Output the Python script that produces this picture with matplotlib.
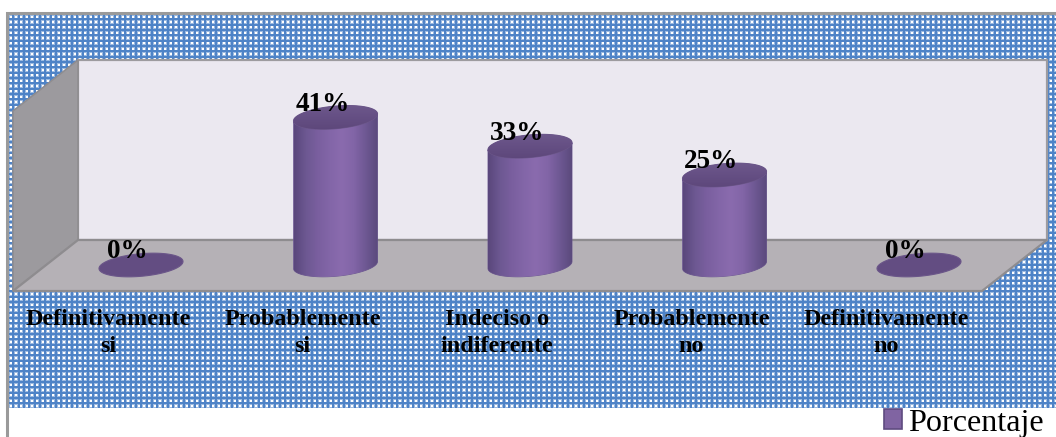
#!/usr/bin/env python3
# Cylinder column chart of survey answers, with a pseudo-3D box behind the columns.
import numpy as np
import matplotlib
matplotlib.use("Agg")
import matplotlib.pyplot as plt
from matplotlib.colors import LinearSegmentedColormap
from matplotlib.patches import Patch, Polygon
from matplotlib.transforms import ScaledTranslation

categories = ["Definitivamente\nsi", "Probablemente\nsi", "Indeciso o\nindiferente",
              "Probablemente\nno", "Definitivamente\nno"]
percent = [0, 41, 33, 25, 0]
series_name = "Porcentaje"

W, H = 1056, 437
PX_PER_CAT = 194.5
PX_PER_PCT = 3.6
BASE_Y = 265      # pixel row of the 0% level
FIRST_X = 141     # pixel column of the first category
SERIF = ["Liberation Serif", "DejaVu Serif"]

fig = plt.figure(figsize=(W / 100, H / 100), dpi=100, facecolor="white")

# --- box and patterned backdrop, in pixel coordinates ---
bg = fig.add_axes([0, 0, 1, 1])
bg.set_xlim(0, W)
bg.set_ylim(H, 0)
bg.axis("off")


def dot_texture(w, h, period=16 / 3):
    yy, xx = np.mgrid[0:h, 0:w]
    fx = ((xx + 0.5) % period) / period
    fy = ((yy + 0.5) % period) / period
    d = np.maximum(np.abs(fx - 0.5), np.abs(fy - 0.5))
    mix = np.where(d < 0.2, 1.0, np.where(d < 0.34, 0.45, 0.0))
    blue = np.array([78, 131, 199]) / 255
    return blue[None, None, :] * (1 - mix[..., None]) + mix[..., None]


bg.imshow(dot_texture(W - 8, 394), extent=(8, W, 408, 14), aspect="auto",
          interpolation="nearest", zorder=1)
bg.set_xlim(0, W)
bg.set_ylim(H, 0)
bg.plot([7, 7, W], [H, 13, 13], color="#9a9a9a", lw=2.2, zorder=2, solid_joinstyle="miter")

back_wall = [(78, 60), (1047, 60), (1047, 240), (78, 240)]
side_wall = [(78, 60), (78, 240), (13, 291), (13, 111)]
floor = [(78, 240), (1047, 240), (982, 291), (13, 291)]
bg.add_patch(Polygon(back_wall, fc="#ebe8f0", ec="#9d9b9f", lw=1.6, zorder=3))
bg.add_patch(Polygon(side_wall, fc="#9c9a9e", ec="#8f8d90", lw=1.2, zorder=3))
bg.add_patch(Polygon(floor, fc="#b5b1b6", ec="#8e8c8f", lw=1.6, zorder=3))

# --- data axes: categories on x, percentage on y ---
ax = fig.add_axes([(FIRST_X - PX_PER_CAT / 2) / W, (H - BASE_Y) / H,
                   PX_PER_CAT * len(categories) / W, 180 / H])
ax.set_xlim(-0.5, len(categories) - 0.5)
ax.set_ylim(0, 180 / PX_PER_PCT)
ax.patch.set_alpha(0)
for s in ax.spines.values():
    s.set_visible(False)
ax.set_yticks([])
ax.set_xticks(range(len(categories)))
ax.set_xticklabels(categories, family=SERIF, fontsize=17.4, fontweight="bold",
                   color="black", linespacing=1.32)
ax.tick_params(axis="x", length=0, pad=32)
# category labels sit left of their columns, as the box is drawn in perspective
shift = ScaledTranslation(-33 / 100, 0, fig.dpi_scale_trans)
for lab in ax.get_xticklabels():
    lab.set_transform(lab.get_transform() + shift)

a = 42 / PX_PER_CAT
b = 11.3 / PX_PER_PCT
tilt = 3.5 / PX_PER_PCT
body_cmap = LinearSegmentedColormap.from_list(
    "body", ["#5a477c", "#6d5892", "#7a5f9f", "#8366a8", "#8a6bae", "#8265a7", "#6e5893", "#5b4a7d"])
top_cmap = LinearSegmentedColormap.from_list("top", ["#6f5a8d", "#654f84", "#5c4679"])


def ellipse(cx, level, t):
    return cx + a * np.cos(t), level + b * np.sin(t) + tilt * np.cos(t)


for i, v in enumerate(percent):
    t = np.linspace(0, 2 * np.pi, 120)
    xe, ye = ellipse(i, v, t)
    rim = Polygon(np.column_stack([xe, ye]), fc="#634d82", ec="#6b5689", lw=0.8,
                  zorder=5, clip_on=False)
    ax.add_patch(rim)
    if v > 0:
        # body: lower half of the base ellipse, then straight up to the top rim
        ts = np.linspace(np.pi, 2 * np.pi, 60)
        xs, ys = ellipse(i, 0, ts)
        xt, yt = ellipse(i, v, ts[::-1])
        outline = Polygon(np.column_stack([np.r_[xs, xt], np.r_[ys, yt]]),
                          fc="none", ec="#6a5590", lw=0.6, zorder=4, clip_on=False)
        ax.add_patch(outline)
        grad = np.linspace(0, 1, 128)[None, :]
        im = ax.imshow(grad, cmap=body_cmap, extent=(i - a, i + a, -2 * b, v + 2 * b),
                       aspect="auto", zorder=4, interpolation="bilinear")
        im.set_clip_box(fig.bbox)
        im.set_clip_path(outline)
        # shaded top face
        top = ax.imshow(np.linspace(0, 1, 64)[:, None], cmap=top_cmap,
                        extent=(i - a, i + a, v - b - tilt, v + b + tilt),
                        aspect="auto", zorder=5.5, interpolation="bilinear")
        top.set_clip_box(fig.bbox)
        top.set_clip_path(rim)
    ax.annotate(f"{v}%", (i, v), xytext=(-9.5, 9.5), textcoords="offset points",
                ha="center", va="center", family=SERIF, fontsize=19.6, fontweight="bold",
                color="black", zorder=6, annotation_clip=False)

ax.set_xlim(-0.5, len(categories) - 0.5)
ax.set_ylim(0, 180 / PX_PER_PCT)

handle = Patch(fc="#8064a2", ec="#5f4b80", lw=1.2, label=series_name)
fig.legend(handles=[handle], loc="center right", bbox_to_anchor=(1044 / W, (H - 423) / H),
           frameon=False, prop={"family": SERIF, "size": 23.1},
           handlelength=0.55, handleheight=0.55, handletextpad=0.2,
           borderpad=0, borderaxespad=0)

fig.savefig("out.png", dpi=100)
